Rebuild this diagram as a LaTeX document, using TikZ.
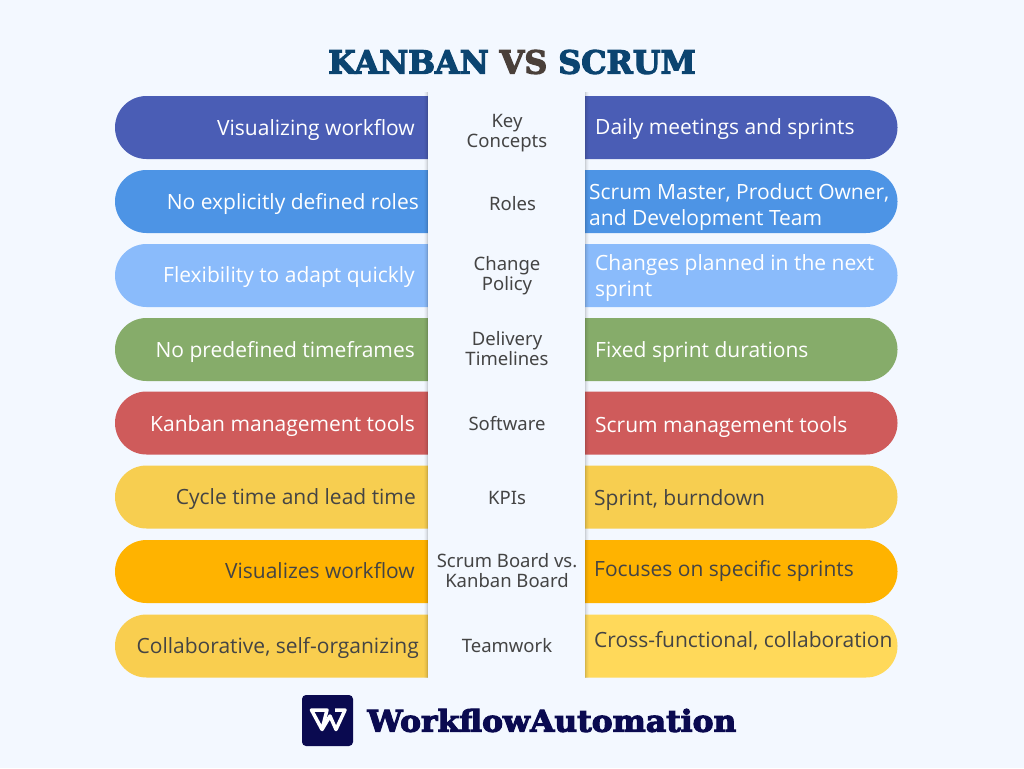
\documentclass[tikz,border=0pt]{standalone}
\usepackage{fontspec}
\setmainfont{Open Sans}
\newfontfamily\slabfont[FakeBold=3.6,FakeStretch=0.992]{DejaVu Serif Bold}
\newfontfamily\brandfont[FakeBold=3.6,FakeStretch=1.046]{DejaVu Serif Bold}
\newfontfamily\midfont{Noto Sans}
\usetikzlibrary{positioning,shapes.misc}
\definecolor{pagebg}{HTML}{F3F8FF}
\definecolor{inka}{HTML}{4A5DB5}
\definecolor{inkb}{HTML}{4D94E5}
\definecolor{inkc}{HTML}{8ABBFB}
\definecolor{inkd}{HTML}{86AC6A}
\definecolor{inke}{HTML}{CF5B5B}
\definecolor{inkf}{HTML}{F7CE50}
\definecolor{inkg}{HTML}{FFB300}
\definecolor{inkh}{HTML}{F9CE4F}
\definecolor{inki}{HTML}{FFD95A}
\definecolor{titleblue}{HTML}{0B4470}
\definecolor{titlevs}{HTML}{4A403A}
\definecolor{logoblue}{HTML}{0A0A50}
\definecolor{darktext}{HTML}{444444}
\tikzset{
  leftpill/.style={rounded rectangle,rounded rectangle east arc=none,rounded rectangle arc length=180,
    minimum width=313pt,minimum height=63pt,inner sep=0pt,outer sep=0pt,fill=#1},
  rightpill/.style={rounded rectangle,rounded rectangle west arc=none,rounded rectangle arc length=180,
    minimum width=313pt,minimum height=63pt,inner sep=0pt,outer sep=0pt,fill=#1},
  pilltext/.style={font=\fontsize{21}{25.5}\selectfont,text=#1,inner sep=0pt,align=left},
  midtext/.style={font=\midfont\fontsize{18.5}{20}\selectfont,text=darktext,inner sep=0pt,align=center},
}
\begin{document}
\begin{tikzpicture}[x=1pt,y=-1pt]
  \useasboundingbox[fill=pagebg] (0,0) rectangle (1024,768);
  % title
  \node[font=\slabfont\fontsize{32}{36}\selectfont,inner sep=0pt] (title) at (512,62)
    {\textcolor{titleblue}{KANBAN} \textcolor{titlevs}{VS} \textcolor{titleblue}{SCRUM}};
  % pills
  \foreach \name/\ya/\inkl/\inkr in {key/127.5/inka/inka,roles/201.5/inkb/inkb,change/275.5/inkc/inkc,
      delivery/349.5/inkd/inkd,software/423/inke/inke,kpi/497/inkf/inkf,board/571.5/inkg/inkg,team/646/inkh/inki} {
    \node[leftpill=\inkl]  (\name left)  at (271.5,\ya) {};
    \node[rightpill=\inkr] (\name right) at (741,\ya)   {};
  }
  % middle column
  \fill[pagebg] (428,92) rectangle (585,680);
  \foreach \d/\o in {0/.16,1/.09,2/.05,3/.02} {
    \fill[black,opacity=\o] (427-\d,92) rectangle (428-\d,678);
    \fill[black,opacity=\o] (585+\d,92) rectangle (586+\d,678);
  }
  % left texts
  \node[pilltext=white,anchor=east] (key ltext) at (415,129.5) {Visualizing workflow};
  \node[pilltext=white,anchor=east] (roles ltext) at (419,203.5) {No explicitly defined roles};
  \node[pilltext=white,anchor=east] (change ltext) at (415,277.5) {Flexibility to adapt quickly};
  \node[pilltext=white,anchor=east] (delivery ltext) at (415,351.5) {No predefined timeframes};
  \node[pilltext=white,anchor=east] (software ltext) at (415,426) {Kanban management tools};
  \node[pilltext=darktext,anchor=east] (kpi ltext) at (416,499.5) {Cycle time and lead time};
  \node[pilltext=darktext,anchor=east] (board ltext) at (415,571) {Visualizes workflow};
  \node[pilltext=darktext,anchor=east] (team ltext) at (419,647.5) {Collaborative, self-organizing};
  % right texts
  \node[pilltext=white,anchor=west] (key rtext) at (595,129.5) {Daily meetings and sprints};
  \node[pilltext=white,anchor=west] (roles rtext) at (589,207) {Scrum Master, Product Owner,\\and Development Team};
  \node[pilltext=white,anchor=west] (change rtext) at (595,278) {Changes planned in the next\\sprint};
  \node[pilltext=white,anchor=west] (delivery rtext) at (595,352.5) {Fixed sprint durations};
  \node[pilltext=white,anchor=west] (software rtext) at (595,427) {Scrum management tools};
  \node[pilltext=darktext,anchor=west] (kpi rtext) at (594,500.5) {Sprint, burndown};
  \node[pilltext=darktext,anchor=west] (board rtext) at (594,570.5) {Focuses on specific sprints};
  \node[pilltext=darktext,anchor=west] (team rtext) at (594,641) {Cross-functional, collaboration};
  % middle texts
  \node[midtext] (key mid) at (507,133) {Key\\Concepts};
  \node[midtext] (roles mid) at (512.5,204) {Roles};
  \node[midtext] (change mid) at (507,276) {Change\\Policy};
  \node[midtext] (delivery mid) at (507,348.5) {Delivery\\Timelines};
  \node[midtext] (software mid) at (507,423.5) {Software};
  \node[midtext] (kpi mid) at (507,497.5) {KPIs};
  \node[midtext] (board mid) at (507,570.5) {Scrum Board vs.\\Kanban Board};
  \node[midtext] (team mid) at (507,645.5) {Teamwork};
  % logo
  \node[fill=logoblue,rounded corners=4pt,minimum size=51pt,inner sep=0pt] (logo) at (327.5,720.5) {};
  \draw[white,line width=3.5pt,line join=round] (311.5,710) -- (327,710) -- (322,729.5) -- cycle;
  \draw[white,line width=3.5pt,line join=round] (322,729.5) -- (330,716) -- (336,729.5) -- (345,710) -- (335,710);
  \node[font=\brandfont\fontsize{30}{34}\selectfont,text=logoblue,anchor=west,inner sep=0pt,right=14pt of logo] (brand) {WorkflowAutomation};
\end{tikzpicture}
\end{document}
